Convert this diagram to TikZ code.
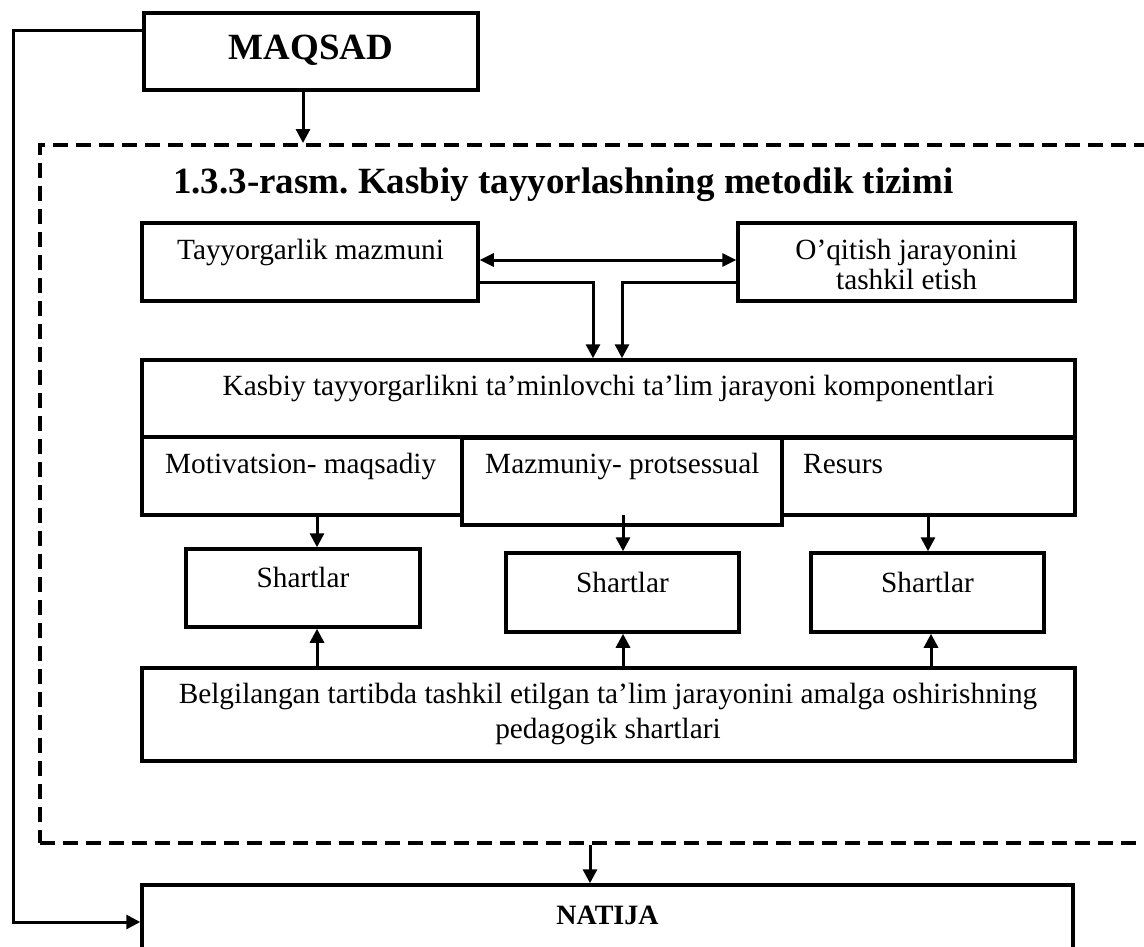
\documentclass[tikz,border=0pt]{standalone}
\usepackage{fontspec}
\setmainfont{Liberation Serif}
\usetikzlibrary{arrows.meta,fit,calc}
\frenchspacing
\begin{document}
\begin{tikzpicture}[x=1pt,y=-1pt,
  box/.style={draw, line width=3.5pt, inner sep=0pt},
  arr/.style={line width=3pt, -{Triangle[length=14pt,width=14pt]}},
  darr/.style={line width=3pt, {Triangle[length=14pt,width=13pt]}-{Triangle[length=14pt,width=13pt]}},
  txt/.style={inner sep=0pt, font=\fontsize{29.3}{30}\selectfont},
  btxt/.style={inner sep=0pt, font=\fontsize{37}{40}\selectfont\bfseries},
  ntxt/.style={inner sep=0pt, font=\fontsize{28}{30}\selectfont\bfseries},
  dbox/.style={draw, line width=4pt, dash pattern=on 15pt off 8pt, inner sep=0pt}
]
\clip (0,0) rectangle (1144,946);
\fill[white] (0,0) rectangle (1144,946);
% dashed system frame
\node[dbox, fit={(40,145) (1200,843)}] (sys) {};
% boxes
\node[box, fit={(144,13) (478,90)}] (maq) {};
\node[btxt, anchor=base] (maqT) at (311,59) {MAQSAD};
\node[btxt, anchor=base west] (title) at (173,193) {1.3.3-rasm. Kasbiy tayyorlashning metodik tizimi};
\node[box, fit={(142,223) (478,301)}] (tm) {};
\node[txt, anchor=base west] (tmT) at (177,259) {Tayyorgarlik mazmuni};
\node[box, fit={(738,223) (1075,301)}] (oq) {};
\node[txt, anchor=base, align=center] (oqT) at (906.5,289) {O’qitish jarayonini\\tashkil etish};
\node[box, fit={(142,360) (1075,437)}] (kas) {};
\node[txt, anchor=base] (kasT) at (608.5,395) {Kasbiy tayyorgarlikni ta’minlovchi ta’lim jarayoni komponentlari};
\node[box, fit={(142,437) (462,515)}] (mot) {};
\node[txt, anchor=base west] (motT) at (165,473) {Motivatsion- maqsadiy};
\node[box, fit={(462,438) (782,525)}] (maz) {};
\node[txt, anchor=base west] (mazT) at (485,473) {Mazmuniy- protsessual};
\node[box, fit={(782,438) (1075,515)}] (res) {};
\node[txt, anchor=base west] (resT) at (803,473) {Resurs};
\node[box, fit={(186,549) (420,627)}] (sh1) {};
\node[txt, anchor=base] (sh1T) at (303,587) {Shartlar};
\node[box, fit={(506,553) (739,632)}] (sh2) {};
\node[txt, anchor=base] (sh2T) at (622.5,592) {Shartlar};
\node[box, fit={(811,553) (1044,632)}] (sh3) {};
\node[txt, anchor=base] (sh3T) at (927.5,592) {Shartlar};
\node[box, fit={(142,668) (1075,761)}] (bel) {};
\node[txt, anchor=base, align=center, font=\fontsize{29.3}{35}\selectfont] (belT) at (608,738) {Belgilangan tartibda tashkil etilgan ta’lim jarayonini amalga oshirishning\\pedagogik shartlari};
\node[box, fit={(142,885) (1073,1010)}] (nat) {};
\node[ntxt, anchor=base] (natT) at (607.5,924) {NATIJA};
% helper coordinates
\coordinate (c303) at (303,0);
\coordinate (c593) at (593,0);
\coordinate (c622) at (622,0);
\coordinate (c317) at (317,0);
\coordinate (c623) at (623,0);
\coordinate (c928) at (928,0);
\coordinate (c931) at (931,0);
\coordinate (c590) at (590,0);
\coordinate (y260) at (0,260);
\coordinate (y282) at (0,282);
\coordinate (fb1) at (13,30);
\coordinate (fb2) at (13,922);
% connectors
\draw[arr] (maq.south -| c303) -- (sys.north -| c303);
\draw[darr] (tm.east |- y260) -- (oq.west |- y260);
\draw[arr] (tm.east |- y282) -| (kas.north -| c593);
\draw[arr] (oq.west |- y282) -| (kas.north -| c622);
\draw[arr] (mot.south -| c317) -- (sh1.north -| c317);
\draw[arr] ($(maz.south -| c623)+(0,-12)$) -- (sh2.north -| c623);
\draw[arr] (res.south -| c928) -- (sh3.north -| c928);
\draw[arr] (bel.north -| c317) -- (sh1.south -| c317);
\draw[arr] (bel.north -| c623) -- (sh2.south -| c623);
\draw[arr] (bel.north -| c931) -- (sh3.south -| c931);
\draw[arr] (sys.south -| c590) -- (nat.north -| c590);
\draw[arr] (maq.west |- fb1) -- (fb1) -- (fb2) -- (nat.west |- fb2);
\end{tikzpicture}
\end{document}
